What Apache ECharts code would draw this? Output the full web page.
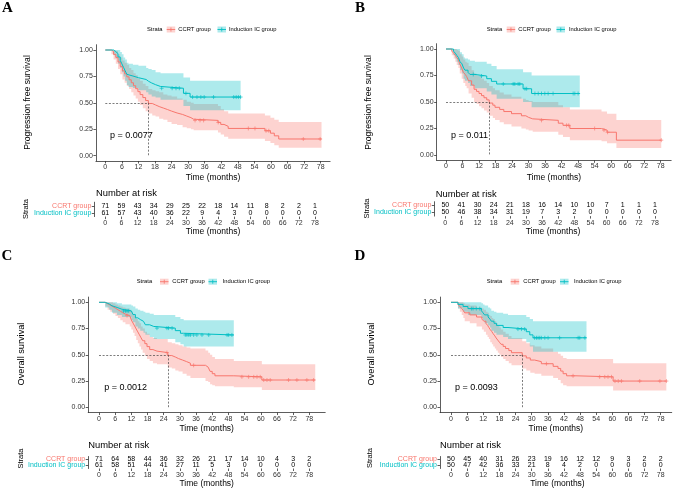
<!DOCTYPE html>
<html><head><meta charset="utf-8">
<script src="https://cdn.jsdelivr.net/npm/echarts@6/dist/echarts.min.js"></script>
<style>html,body{margin:0;padding:0;background:#fff}#c{width:677px;height:491px}</style>
</head><body><div id="c"></div>
<script>
// ---------- DATA ----------
const timeTicks = [0,6,12,18,24,30,36,42,48,54,60,66,72,78];
const survTicks = [0,0.25,0.5,0.75,1];
const groups = ['CCRT group','Induction IC group'];
const panelLetters = ['A','B','C','D'];
const yTitles = ['Progression free survival','Progression free survival','Overall survival','Overall survival'];
const pValues = ['p = 0.0077','p = 0.011','p = 0.0012','p = 0.0093'];
const medians = [15.6, 15.7, 25.5, 26.5];

// curves: [time, survival, lower CI, upper CI]
const A_ccrt = [[0,1,1,1],[2.2,0.986,0.96,1],[3.0,0.958,0.91,1],[3.8,0.93,0.87,0.99],[4.6,0.887,0.82,0.96],[5.4,0.845,0.77,0.93],[6.2,0.803,0.72,0.90],[7.0,0.775,0.69,0.88],[7.8,0.746,0.66,0.86],[8.6,0.718,0.63,0.83],[9.4,0.69,0.60,0.81],[10.2,0.662,0.57,0.78],[11.0,0.634,0.54,0.76],[11.8,0.606,0.51,0.73],[12.6,0.578,0.48,0.71],[13.6,0.55,0.45,0.68],[14.6,0.522,0.42,0.66],[15.6,0.494,0.40,0.63],[17.0,0.48,0.38,0.62],[18.2,0.465,0.37,0.61],[19.5,0.451,0.35,0.60],[21.0,0.437,0.34,0.58],[22.5,0.422,0.32,0.57],[24.0,0.404,0.30,0.56],[26.0,0.39,0.29,0.54],[28.0,0.375,0.27,0.53],[29.5,0.36,0.26,0.51],[31.0,0.345,0.25,0.50],[32.0,0.334,0.24,0.49],[40.8,0.315,0.22,0.47],[41.8,0.296,0.20,0.44],[43.0,0.278,0.18,0.42],[44.5,0.258,0.16,0.40],[57.8,0.236,0.14,0.38],[59.8,0.213,0.12,0.36],[61.2,0.188,0.10,0.34],[62.8,0.158,0.075,0.32],[78.3,0.158,0.075,0.32]];
const A_ic = [[0,1,1,1],[3.0,0.984,0.95,1],[3.8,0.967,0.92,1],[4.6,0.934,0.87,1],[5.4,0.902,0.83,0.98],[6.0,0.869,0.79,0.96],[6.6,0.836,0.75,0.93],[7.2,0.803,0.71,0.91],[7.8,0.77,0.67,0.88],[8.4,0.754,0.65,0.87],[10.0,0.738,0.64,0.86],[12.0,0.721,0.62,0.85],[14.8,0.705,0.60,0.83],[15.6,0.688,0.58,0.82],[16.8,0.672,0.56,0.81],[18.2,0.655,0.55,0.79],[20.0,0.638,0.53,0.78],[28.3,0.59,0.47,0.74],[30.7,0.555,0.43,0.71],[49.0,0.555,0.43,0.71]];
const A_ccrt_cens = [32.5,34.3,35.6,40.9,51.8,54.2,58.2,59.2,71.7,77.8];
const A_ic_cens = [20.4,24.2,25.6,26.8,29.2,31.6,33.2,34.6,35.8,39.2,46.5,47.4,48.2,49.0];
const A_risk_ccrt = [71,59,43,34,29,25,22,18,14,11,8,2,2,1];
const A_risk_ic = [61,57,43,40,36,22,9,4,3,0,0,0,0,0];

const B_ccrt = [[0,1,1,1],[2.1,0.98,0.94,1],[2.8,0.96,0.91,1],[3.4,0.94,0.88,1],[3.9,0.92,0.85,0.99],[4.5,0.90,0.82,0.98],[5.0,0.86,0.77,0.95],[5.7,0.82,0.72,0.93],[6.3,0.78,0.68,0.90],[7.0,0.76,0.65,0.88],[7.5,0.74,0.63,0.87],[8.2,0.70,0.58,0.84],[9.3,0.66,0.54,0.80],[10.2,0.62,0.50,0.77],[11.1,0.60,0.48,0.75],[12.0,0.58,0.46,0.74],[12.9,0.56,0.44,0.72],[13.8,0.54,0.42,0.70],[14.8,0.52,0.40,0.68],[15.7,0.49,0.37,0.65],[17.0,0.47,0.35,0.63],[17.8,0.45,0.33,0.61],[19.5,0.43,0.31,0.59],[21.0,0.41,0.29,0.57],[23.8,0.39,0.27,0.55],[27.4,0.37,0.25,0.53],[29.0,0.355,0.24,0.52],[30.0,0.341,0.23,0.51],[31.5,0.327,0.22,0.50],[40.8,0.30,0.19,0.47],[42.5,0.28,0.17,0.45],[45.0,0.25,0.14,0.43],[56.5,0.235,0.13,0.41],[58.5,0.215,0.11,0.39],[61.9,0.14,0.065,0.33],[78.2,0.14,0.065,0.33]];
const B_ic = [[0,1,1,1],[2.7,0.98,0.94,1],[3.4,0.96,0.91,1],[3.9,0.94,0.88,1],[4.5,0.92,0.85,1],[5.1,0.88,0.80,0.97],[5.8,0.86,0.77,0.95],[6.4,0.82,0.72,0.92],[6.9,0.80,0.70,0.91],[8.0,0.78,0.68,0.90],[8.7,0.76,0.65,0.89],[10.5,0.745,0.63,0.88],[14.8,0.72,0.60,0.86],[16.5,0.695,0.57,0.84],[18.4,0.67,0.53,0.81],[28.0,0.625,0.50,0.78],[31.1,0.58,0.45,0.75],[48.6,0.58,0.45,0.75]];
const B_ccrt_cens = [34.7,43.8,44.6,54.0,57.4,58.7,78.2];
const B_ic_cens = [9.9,12.9,20.8,24.4,25.0,26.2,26.8,28.7,29.3,32.3,33.5,34.7,35.9,37.1,38.9,46.2,46.8,48.0];
const B_risk_ccrt = [50,41,30,24,21,18,16,14,10,10,7,1,1,1];
const B_risk_ic = [50,46,38,34,31,19,7,3,2,0,0,0,0,0];

const C_ccrt = [[0,1,1,1],[2.3,0.986,0.96,1],[3.2,0.972,0.93,1],[4.2,0.958,0.91,1],[5.2,0.944,0.89,0.99],[6.1,0.93,0.87,0.98],[7.0,0.915,0.85,0.97],[7.9,0.901,0.83,0.96],[8.8,0.887,0.81,0.95],[9.8,0.873,0.79,0.94],[11.4,0.859,0.77,0.93],[12.0,0.831,0.74,0.91],[12.6,0.803,0.71,0.89],[13.2,0.775,0.68,0.87],[13.8,0.746,0.64,0.84],[14.4,0.718,0.61,0.82],[15.0,0.69,0.58,0.80],[15.6,0.662,0.55,0.77],[16.2,0.634,0.52,0.75],[17.0,0.606,0.49,0.72],[17.8,0.578,0.46,0.70],[18.8,0.55,0.44,0.67],[20.0,0.535,0.42,0.66],[21.5,0.521,0.41,0.65],[25.5,0.493,0.38,0.62],[27.0,0.479,0.37,0.61],[28.3,0.464,0.35,0.60],[29.5,0.45,0.34,0.59],[31.0,0.435,0.32,0.58],[32.5,0.42,0.30,0.57],[33.9,0.40,0.28,0.56],[39.5,0.382,0.25,0.54],[40.5,0.364,0.24,0.52],[41.2,0.342,0.22,0.50],[42.0,0.32,0.21,0.48],[43.0,0.30,0.20,0.46],[50.0,0.29,0.19,0.44],[60.4,0.26,0.165,0.41],[80.2,0.26,0.165,0.41]];
const C_ic = [[0,1,1,1],[2.3,0.984,0.95,1],[3.8,0.967,0.93,1],[4.8,0.951,0.90,1],[6.7,0.934,0.88,0.99],[8.5,0.918,0.86,0.98],[12.0,0.90,0.83,0.97],[12.6,0.883,0.81,0.96],[13.5,0.852,0.77,0.94],[14.4,0.836,0.75,0.93],[15.3,0.819,0.73,0.92],[16.5,0.803,0.71,0.91],[17.2,0.786,0.69,0.90],[18.8,0.77,0.67,0.89],[20.3,0.754,0.65,0.88],[28.3,0.73,0.62,0.86],[30.2,0.705,0.60,0.84],[31.4,0.689,0.58,0.83],[50.0,0.689,0.58,0.83]];
const C_ccrt_cens = [10.4,25.2,35.1,53.0,55.5,57.4,58.6,59.8,61.1,62.3,63.5,70.3,73.4,77.1,79.6];
const C_ic_cens = [9.1,9.8,10.4,11.0,21.5,25.2,25.8,27.1,32.0,32.6,33.3,33.9,35.1,36.3,38.2,40.7,47.5,48.1,49.3];
const C_risk_ccrt = [71,64,58,44,36,32,26,21,17,14,10,4,3,2];
const C_risk_ic = [61,58,51,44,41,27,11,5,3,0,0,0,0,0];

const D_ccrt = [[0,1,1,1],[2.6,0.98,0.94,1],[3.3,0.96,0.91,1],[4.0,0.94,0.88,1],[4.6,0.92,0.85,0.99],[5.1,0.90,0.82,0.98],[7.0,0.88,0.80,0.97],[9.5,0.86,0.77,0.95],[11.5,0.84,0.74,0.94],[12.2,0.82,0.72,0.93],[13.0,0.80,0.69,0.91],[13.6,0.78,0.67,0.90],[14.1,0.76,0.65,0.88],[14.6,0.74,0.62,0.87],[15.2,0.72,0.60,0.85],[15.7,0.70,0.58,0.84],[16.3,0.68,0.56,0.82],[16.8,0.66,0.54,0.80],[17.4,0.64,0.52,0.78],[18.0,0.62,0.50,0.76],[18.6,0.60,0.48,0.74],[19.4,0.58,0.46,0.72],[20.3,0.56,0.44,0.70],[21.5,0.54,0.42,0.68],[22.5,0.52,0.40,0.66],[26.5,0.49,0.37,0.63],[28.0,0.47,0.35,0.61],[29.5,0.45,0.33,0.59],[31.1,0.435,0.32,0.58],[33.6,0.415,0.30,0.56],[38.0,0.39,0.28,0.53],[39.8,0.37,0.26,0.51],[40.8,0.345,0.23,0.49],[41.7,0.32,0.21,0.47],[43.0,0.30,0.20,0.46],[46.5,0.29,0.20,0.46],[60.3,0.25,0.16,0.42],[80.1,0.25,0.16,0.42]];
const D_ic = [[0,1,1,1],[2.6,0.98,0.94,1],[4.5,0.96,0.91,1],[6.3,0.94,0.88,1],[11.3,0.92,0.85,0.99],[11.9,0.90,0.83,0.98],[12.5,0.88,0.80,0.97],[13.8,0.86,0.78,0.95],[14.5,0.84,0.76,0.94],[15.0,0.82,0.73,0.92],[16.0,0.80,0.71,0.91],[16.9,0.78,0.69,0.90],[19.4,0.76,0.67,0.89],[21.2,0.745,0.65,0.88],[28.0,0.72,0.62,0.86],[29.3,0.69,0.58,0.84],[30.5,0.662,0.53,0.82],[50.4,0.662,0.53,0.82]];
const D_ccrt_cens = [35.5,45.4,55.3,57.2,58.4,59.7,61.0,62.2,63.4,70.2,77.7,80.1];
const D_ic_cens = [7.6,8.2,9.4,10.7,24.9,26.2,27.4,31.1,31.8,32.4,33.0,33.6,34.9,36.1,40.4,47.3,47.9,49.8];
const D_risk_ccrt = [50,45,40,31,26,23,19,16,12,12,9,3,2,2];
const D_risk_ic = [50,47,42,36,33,21,8,4,2,0,0,0,0,0];

// ---------- LAYOUT (pixel placement only) ----------
const layouts = [
 {plot:{x0:105.3,x78:320.7,y1:50,y0:155.7,xr:[-3.4,81.4]}, risk:{x0:105.3,x78:315,r1:205.8,r2:213,xr:[-4.1,84.2]}, xm:[2.5,12.5], rxm:[3,11],
  letter:[7.5,8], ytitle:[28,102.5,8.6], legend:{y:29.5,s:147,i1:166.7,t1:178.3,i2:217.5,t2:229}, pval:[110,136], nar:[96,193], strata:[26,209]},
 {plot:{x0:446,x78:660.7,y1:49,y0:155,xr:[-3.4,81.8]}, risk:{x0:445.3,x78:655,r1:205.3,r2:212.5,xr:[-4.1,84.2]}, xm:[2.5,12.5], rxm:[3,11],
  letter:[360,8.3], ytitle:[368.3,102.5,8.6], legend:{y:29.5,s:486.7,i1:506.7,t1:518.3,i2:556.5,t2:569}, pval:[451,136], nar:[435.7,194], strata:[366.7,208.5]},
 {plot:{x0:99,x78:309.3,y1:302.3,y0:407.3,xr:[-4.0,83.9]}, risk:{x0:99,x78:309.3,r1:459.5,r2:465.5,xr:[-4.0,83.9]}, xm:[3.5,10.5], rxm:[3,10.5],
  letter:[7,256], ytitle:[21,354,9.2], legend:{y:281.7,s:136.7,i1:160,t1:172.3,i2:208.5,t2:222.7}, pval:[104.3,387.3], nar:[88.3,445], strata:[20.7,458.5]},
 {plot:{x0:451,x78:660.7,y1:302.3,y0:407.3,xr:[-4.1,82.1]}, risk:{x0:451,x78:660.7,r1:459.5,r2:465.5,xr:[-4.1,83.3]}, xm:[3.5,10.5], rxm:[3,10.5],
  letter:[360,256], ytitle:[371.7,354,9.2], legend:{y:281.7,s:486.7,i1:510.7,t1:523.3,i2:560,t2:574}, pval:[455,387.3], nar:[440,445], strata:[370,458]}
];

const panels = [
 {ccrt:A_ccrt, ic:A_ic, cc:A_ccrt_cens, ci:A_ic_cens, rc:A_risk_ccrt, ri:A_risk_ic},
 {ccrt:B_ccrt, ic:B_ic, cc:B_ccrt_cens, ci:B_ic_cens, rc:B_risk_ccrt, ri:B_risk_ic},
 {ccrt:C_ccrt, ic:C_ic, cc:C_ccrt_cens, ci:C_ic_cens, rc:C_risk_ccrt, ri:C_risk_ic},
 {ccrt:D_ccrt, ic:D_ic, cc:D_ccrt_cens, ci:D_ic_cens, rc:D_risk_ccrt, ri:D_risk_ic}
];

const RED='#F8766D', CYAN='#00BFC4';
const RED_BAND='rgba(248,118,109,0.32)', CYAN_BAND='rgba(0,191,196,0.32)';
const FONT='"Liberation Sans", Arial, Helvetica, sans-serif';
const AX='#333';

function survAt(curve,t){let s=curve[0][1];for(const r of curve){if(r[0]<=t)s=r[1];else break;}return s;}

const grid=[], xAxis=[], yAxis=[], series=[], graphic=[];

function bandSeries(curve,color,ai){
  return {type:'custom', xAxisIndex:ai, yAxisIndex:ai, silent:true, z:1,
    data: curve.map(r=>[r[0],r[2],r[3]]), encode:{x:0,y:[1,2]},
    renderItem:function(params,api){
      if(params.dataIndex!==0) return null;
      const n=params.dataInsideLength; const up=[], lo=[];
      for(let i=0;i<n-1;i++){
        const t0=api.value(0,i), t1=api.value(0,i+1), l=api.value(1,i), h=api.value(2,i);
        up.push(api.coord([t0,h]), api.coord([t1,h]));
        lo.push(api.coord([t0,l]), api.coord([t1,l]));
      }
      return {type:'polygon', shape:{points: up.concat(lo.reverse())}, style:{fill:color}};
    }};
}
function lineSeries(name,curve,color,ai,median){
  const s={type:'line', name, xAxisIndex:ai, yAxisIndex:ai, step:'end', symbol:'none', z:3, silent:true,
    lineStyle:{color, width:1}, data: curve.map(r=>[r[0],r[1]])};
  if(median!==undefined){
    s.markLine={silent:true, symbol:'none', label:{show:false}, animation:false,
      lineStyle:{type:[2,1.6], color:'#444', width:0.7},
      data:[[{coord:[0,0.5]},{coord:[median,0.5]}],[{coord:[median,0.5]},{coord:[median,0]}]]};
  }
  return s;
}
function censSeries(curve,times,color,ai){
  return {type:'scatter', xAxisIndex:ai, yAxisIndex:ai, z:4, silent:true,
    symbol:'path://M0,5L10,5M5,0L5,10', symbolSize:4,
    itemStyle:{color:'rgba(0,0,0,0)', borderColor:color, borderWidth:0.8},
    data: times.map(t=>[t, survAt(curve,t)])};
}

panels.forEach((P,k)=>{
  const L=layouts[k];
  const u=(L.plot.x78-L.plot.x0)/78, yu=L.plot.y0-L.plot.y1;
  grid.push({left:L.plot.x0+L.plot.xr[0]*u, width:(L.plot.xr[1]-L.plot.xr[0])*u, top:L.plot.y1-0.05*yu, height:1.1*yu, containLabel:false});
  const ru=(L.risk.x78-L.risk.x0)/78, rh=L.risk.r2-L.risk.r1;
  grid.push({left:L.risk.x0+L.risk.xr[0]*ru, width:(L.risk.xr[1]-L.risk.xr[0])*ru, top:L.risk.r1-rh/2, height:2*rh, containLabel:false});
  const gi=2*k, ri=2*k+1;
  const xBase=(g,xr,m)=>({gridIndex:g, type:'value', min:xr[0], max:xr[1],
    axisLine:{onZero:false, lineStyle:{color:AX,width:0.8}},
    axisTick:{show:true, length:2.5, customValues:timeTicks, lineStyle:{color:AX,width:0.8}},
    axisLabel:{customValues:timeTicks, fontSize:7, color:AX, margin:m[0], fontFamily:FONT},
    splitLine:{show:false}, name:'Time (months)', nameLocation:'middle', nameGap:m[1],
    nameTextStyle:{fontSize:8.5, color:'#000', fontFamily:FONT}});
  xAxis.push(xBase(gi,L.plot.xr,L.xm));
  xAxis.push(xBase(ri,L.risk.xr,L.rxm));
  yAxis.push({gridIndex:gi, type:'value', min:-0.05, max:1.05,
    axisLine:{show:true, onZero:false, lineStyle:{color:AX,width:0.8}},
    axisTick:{show:true, length:2.5, customValues:survTicks, lineStyle:{color:AX,width:0.8}},
    axisLabel:{customValues:survTicks, fontSize:7, color:AX, margin:3, fontFamily:FONT, formatter:v=>Number(v).toFixed(2)},
    splitLine:{show:false}});
  yAxis.push({gridIndex:ri, type:'category', data:groups, inverse:true,
    axisLine:{show:true, onZero:false, lineStyle:{color:AX,width:0.8}},
    axisTick:{show:true, length:2.5, interval:0, alignWithLabel:true, lineStyle:{color:AX,width:0.8}},
    axisLabel:{interval:0, hideOverlap:false, fontSize:7, margin:3, fontFamily:FONT, color:(v,i)=> (v===groups[0]?RED:CYAN)},
    splitLine:{show:false}});

  series.push(bandSeries(P.ccrt,RED_BAND,gi));
  series.push(bandSeries(P.ic,CYAN_BAND,gi));
  series.push(lineSeries(groups[0],P.ccrt,RED,gi,medians[k]));
  series.push(lineSeries(groups[1],P.ic,CYAN,gi));
  series.push(censSeries(P.ccrt,P.cc,RED,gi));
  series.push(censSeries(P.ic,P.ci,CYAN,gi));
  const riskData = timeTicks.map((t,i)=>[t,0,P.rc[i]]).concat(timeTicks.map((t,i)=>[t,1,P.ri[i]]));
  series.push({type:'custom', xAxisIndex:ri, yAxisIndex:ri, silent:true, data:riskData, encode:{x:0,y:1},
    renderItem:function(params,api){
      const p=api.coord([api.value(0),api.value(1)]);
      return {type:'text', x:p[0], y:p[1], style:{text:String(api.value(2)), fontSize:7, fill:'#000',
        align:'center', verticalAlign:'middle', fontFamily:FONT}};
    }});

  graphic.push({type:'text', x:L.letter[0], y:L.letter[1], style:{text:panelLetters[k], fontSize:15, fontWeight:'bold',
    fontFamily:'"Liberation Serif", "Times New Roman", serif', fill:'#000', align:'center', verticalAlign:'middle'}});
  graphic.push({type:'text', x:L.ytitle[0], y:L.ytitle[1], rotation:Math.PI/2, style:{text:yTitles[k], fontSize:L.ytitle[2],
    fontFamily:FONT, fill:'#000', align:'center', verticalAlign:'middle'}});
  graphic.push({type:'text', x:L.pval[0], y:L.pval[1], style:{text:pValues[k], fontSize:9, fontFamily:FONT, fill:'#000', align:'left', verticalAlign:'middle'}});
  graphic.push({type:'text', x:L.nar[0], y:L.nar[1], style:{text:'Number at risk', fontSize:9.4, fontFamily:FONT, fill:'#000', align:'left', verticalAlign:'middle'}});
  graphic.push({type:'text', x:L.strata[0], y:L.strata[1], rotation:Math.PI/2, style:{text:'Strata', fontSize:7.5, fontFamily:FONT, fill:'#000', align:'center', verticalAlign:'middle'}});
  const lg=L.legend, ly=lg.y, fs=5.8;
  graphic.push({type:'text', x:lg.s, y:ly, style:{text:'Strata', fontSize:fs, fontFamily:FONT, fill:'#000', align:'left', verticalAlign:'middle'}});
  [[lg.i1,lg.t1,RED,RED_BAND,groups[0]],[lg.i2,lg.t2,CYAN,CYAN_BAND,groups[1]]].forEach(([ix,tx,c,b,name])=>{
    graphic.push({type:'rect', shape:{x:ix, y:ly-3, width:8.5, height:6}, style:{fill:b}});
    graphic.push({type:'line', shape:{x1:ix, y1:ly, x2:ix+8.5, y2:ly}, style:{stroke:c, lineWidth:0.9}});
    graphic.push({type:'line', shape:{x1:ix+4.25, y1:ly-2, x2:ix+4.25, y2:ly+2}, style:{stroke:c, lineWidth:0.8}});
    graphic.push({type:'text', x:tx, y:ly, style:{text:name, fontSize:fs, fontFamily:FONT, fill:'#000', align:'left', verticalAlign:'middle'}});
  });
});

const chart=echarts.init(document.getElementById('c'));
chart.setOption({animation:false, backgroundColor:'#fff', grid, xAxis, yAxis, series, graphic});
</script></body></html>
